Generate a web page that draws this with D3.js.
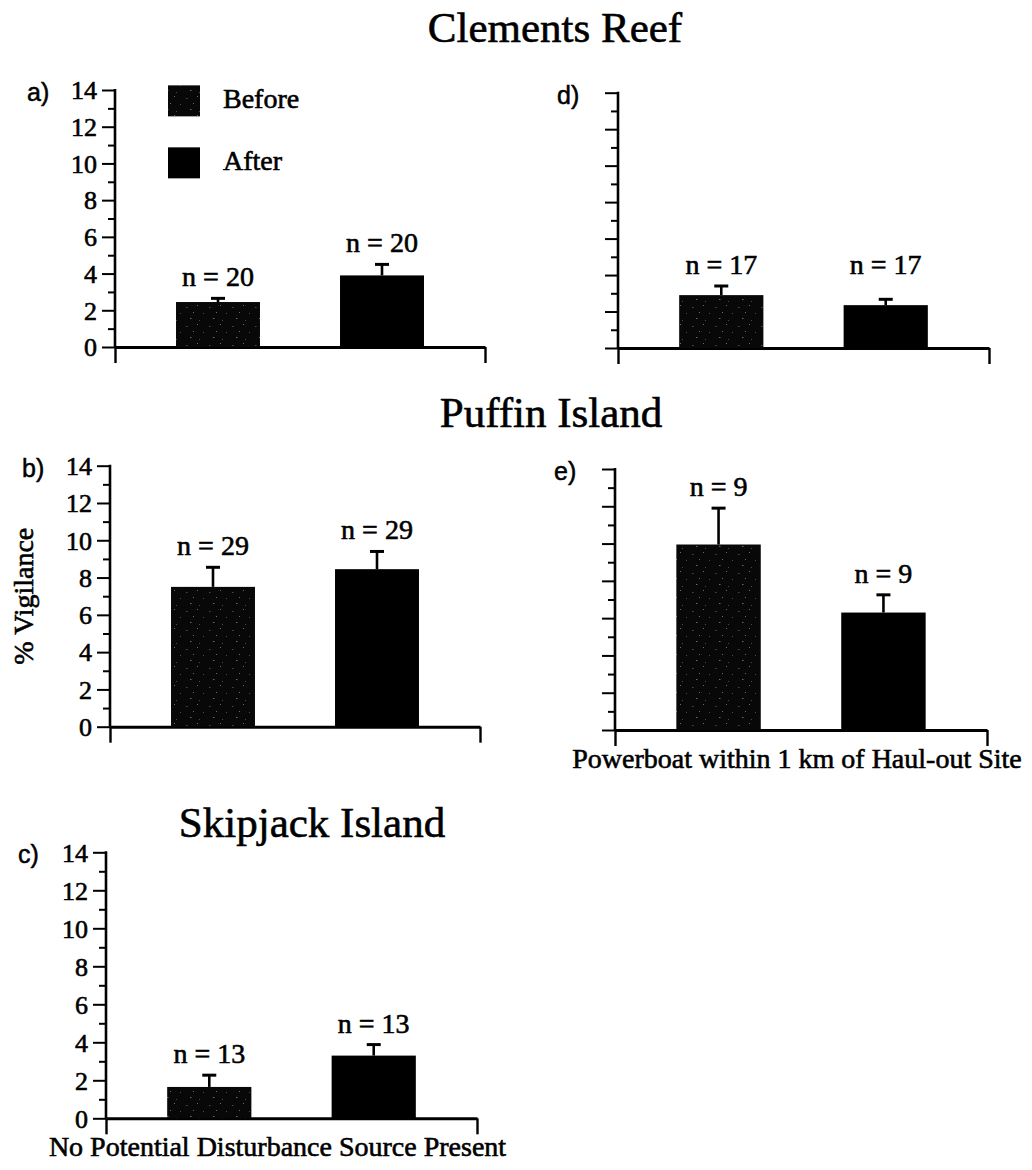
<!DOCTYPE html>
<html>
<head>
<meta charset="utf-8">
<script src="https://cdn.jsdelivr.net/npm/d3@7/dist/d3.min.js"></script>
<style>
  html, body { margin: 0; padding: 0; background: #fff; }
  svg { display: block; }
  .serif { font-family: "Liberation Serif", "Times New Roman", serif; fill: #000; stroke: #000; stroke-width: 0.6px; }
  .sans { font-family: "Liberation Sans", Arial, sans-serif; fill: #000; stroke: #000; stroke-width: 0.5px; }
</style>
</head>
<body>
<svg id="chart" width="1032" height="1170"></svg>
<script>
// ---- data -------------------------------------------------------------
const groups = ["Before", "After"];
const panelLetters = ["a", "b", "c", "d", "e"];
const siteNames = ["Clements Reef", "Puffin Island", "Skipjack Island"];
const conditionNames = ["No Potential Disturbance Source Present", "Powerboat within 1 km of Haul-out Site"];
// mean % vigilance per panel (a..e)
const beforeMeans  = [2.45, 7.5, 1.65, 2.9, 9.95];
const afterMeans   = [3.9, 8.45, 3.3, 2.35, 6.3];
// standard error (upper bar only)
const beforeErrors = [0.2, 1.05, 0.62, 0.5, 1.95];
const afterErrors  = [0.6, 0.95, 0.58, 0.32, 0.95];
const sampleSizes  = [20, 29, 13, 17, 9];
const yMajorTicks  = [0, 2, 4, 6, 8, 10, 12, 14];
const yMinorTicks  = [1, 3, 5, 7, 9, 11, 13];
const yLabel = "% Vigilance";

// ---- layout ------------------------------------------------------------
const panels = [
  { left: 115, right: 485, top: 90,    base: 347,    tickLabels: true,  legend: true },
  { left: 110, right: 480, top: 465.7, base: 726.7,  tickLabels: true,  yTitle: true },
  { left: 106, right: 477, top: 852.3, base: 1118.3, tickLabels: true,  xTitle: 0, xTitleShift: -14 },
  { left: 618, right: 989, top: 92.7,  base: 348,    tickLabels: false, alignLabels: true },
  { left: 615, right: 987, top: 469,   base: 730,    tickLabels: false, xTitle: 1, xTitleShift: -4 }
];
const siteTitles = [
  { x: 555, y: 42 },
  { x: 551, y: 427 },
  { x: 312, y: 837 }
];

const svg = d3.select("#chart");

// speckled near-black fill used for the "Before" bars
const defs = svg.append("defs");
const pat = defs.append("pattern")
  .attr("id", "speckle").attr("patternUnits", "userSpaceOnUse")
  .attr("width", 23).attr("height", 19);
pat.append("rect").attr("width", 23).attr("height", 19).attr("fill", "#080808");
[[2,3],[13,1],[19,9],[6,14],[15,16],[9,8]].forEach(([px, py], i) => {
  pat.append("rect").attr("x", px).attr("y", py)
    .attr("width", i % 3 === 0 ? 1.5 : 1).attr("height", 1)
    .attr("fill", i % 2 ? "#6a6a6a" : "#4a4a4a");
});
const fills = ["url(#speckle)", "#000"];

const serif = "Liberation Serif, Times New Roman, serif";

panels.forEach((p, i) => {
  const g = svg.append("g");
  const y = d3.scaleLinear().domain([0, 14]).range([p.base, p.top]);
  const x = d3.scaleBand().domain(groups).range([p.left, p.right])
    .paddingInner(0.488).paddingOuter(0.372);
  const xEnds = d3.scaleLinear().domain([0, 1]).range([p.left, p.right]);

  // y axis: major ticks with labels, minor ticks in between
  const major = d3.axisLeft(y).tickValues(yMajorTicks).tickSize(13).tickSizeOuter(0)
    .tickFormat(p.tickLabels ? d3.format("d") : () => "").tickPadding(5);
  const gy = g.append("g").attr("transform", `translate(${p.left},0)`).call(major);
  gy.select(".domain").remove();
  gy.selectAll(".tick line").attr("stroke", "#000").attr("stroke-width", 2);
  gy.selectAll(".tick text").attr("class", "serif").attr("font-family", serif)
    .attr("font-size", 26).attr("dy", "0.34em");

  const minor = d3.axisLeft(y).tickValues(yMinorTicks).tickSize(7).tickFormat(() => "");
  const gm = g.append("g").attr("transform", `translate(${p.left},0)`).call(minor);
  gm.select(".domain").remove();
  gm.selectAll(".tick line").attr("stroke", "#000").attr("stroke-width", 2);

  // vertical axis line
  g.append("line")
    .attr("x1", p.left).attr("x2", p.left)
    .attr("y1", y(14) - 1).attr("y2", y(0))
    .attr("stroke", "#000").attr("stroke-width", 2.6);

  // baseline with end ticks hanging below
  const xa = d3.axisBottom(xEnds).tickValues([0, 1]).tickSize(16).tickSizeOuter(0).tickFormat(() => "");
  const gx = g.append("g").attr("transform", `translate(0,${y(0)})`).call(xa);
  gx.select(".domain").attr("stroke", "#000").attr("stroke-width", 3);
  gx.selectAll(".tick line").attr("stroke", "#000").attr("stroke-width", 2.4);

  const means = [beforeMeans[i], afterMeans[i]];
  const errs = [beforeErrors[i], afterErrors[i]];

  // bars
  g.selectAll("rect.bar").data(groups).join("rect").attr("class", "bar")
    .attr("x", d => x(d)).attr("width", x.bandwidth())
    .attr("y", (d, k) => y(means[k])).attr("height", (d, k) => y(0) - y(means[k]))
    .attr("fill", (d, k) => fills[k]);

  // upper error bars
  const cx = d => x(d) + x.bandwidth() / 2;
  g.selectAll("line.err").data(groups).join("line").attr("class", "err")
    .attr("x1", cx).attr("x2", cx)
    .attr("y1", (d, k) => y(means[k])).attr("y2", (d, k) => y(means[k] + errs[k]))
    .attr("stroke", "#000").attr("stroke-width", 2.6);
  g.selectAll("line.cap").data(groups).join("line").attr("class", "cap")
    .attr("x1", d => cx(d) - 7).attr("x2", d => cx(d) + 7)
    .attr("y1", (d, k) => y(means[k] + errs[k])).attr("y2", (d, k) => y(means[k] + errs[k]))
    .attr("stroke", "#000").attr("stroke-width", 3);

  // sample size labels
  const tops = means.map((m, k) => y(m + errs[k]));
  const sharedTop = d3.min(tops);
  g.selectAll("text.n").data(groups).join("text").attr("class", "n serif")
    .attr("x", cx)
    .attr("y", (d, k) => (p.alignLabels ? sharedTop : tops[k]) - 12)
    .attr("text-anchor", "middle").attr("font-size", 28)
    .text(() => `n = ${sampleSizes[i]}`);

  // panel letter
  g.append("text").attr("class", "sans")
    .attr("x", p.left - (p.tickLabels ? 88 : 61)).attr("y", y(14) + 11)
    .attr("font-size", 25).text(panelLetters[i] + ")");

  if (p.yTitle) {
    g.append("text").attr("class", "serif")
      .attr("transform", `translate(${p.left - 77},${(y(0) + y(14)) / 2}) rotate(-90)`)
      .attr("text-anchor", "middle").attr("font-size", 28).text(yLabel);
  }
  if (p.xTitle !== undefined) {
    g.append("text").attr("class", "serif")
      .attr("x", (p.left + p.right) / 2 + p.xTitleShift)
      .attr("y", y(0) + 38)
      .attr("text-anchor", "middle").attr("font-size", 28)
      .text(conditionNames[p.xTitle]);
  }

  if (p.legend) {
    const lg = g.append("g");
    groups.forEach((name, k) => {
      const ly = y(13) + k * 62;
      lg.append("rect").attr("x", p.left + 53).attr("y", ly - 23)
        .attr("width", 32).attr("height", 31).attr("fill", fills[k]);
      lg.append("text").attr("class", "serif")
        .attr("x", p.left + 108).attr("y", ly)
        .attr("font-size", 28).text(name);
    });
  }
});

// site headings
svg.selectAll("text.site").data(siteNames).join("text").attr("class", "site serif")
  .attr("x", (d, i) => siteTitles[i].x).attr("y", (d, i) => siteTitles[i].y)
  .attr("text-anchor", "middle").attr("font-size", 43).text(d => d);
</script>
</body>
</html>
